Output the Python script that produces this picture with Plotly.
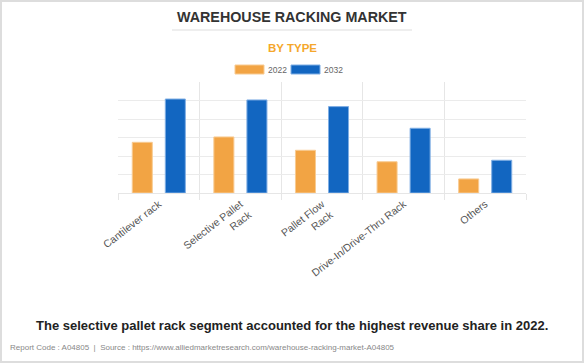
import plotly.graph_objects as go

categories = ["Cantilever rack", "Selective Pallet<br>Rack", "Pallet Flow<br>Rack",
              "Drive-In/Drive-Thru Rack", "Others"]
values_2022 = [2.74, 3.03, 2.31, 1.69, 0.76]
values_2032 = [5.08, 5.03, 4.67, 3.50, 1.77]
series_names = ["2022", "2032"]
colors = ["#F2A444", "#1266C1"]
edge_colors = ["#F8CB92", "#7FAEE4"]

FONT = "Arial, Liberation Sans, sans-serif"

L, T, W, H = 118, 82, 408, 111
def px(x):
    return (x - L) / W
def py(y):
    return (T + H - y) / H

fig = go.Figure()
for name, vals, c, ec in zip(series_names, [values_2022, values_2032], colors, edge_colors):
    fig.add_trace(go.Bar(x=categories, y=vals, name=name, marker=dict(color=c, line=dict(color=ec, width=1)),
                         showlegend=False, hoverinfo="x+y"))

fig.update_layout(
    width=584, height=363,
    margin=dict(l=L, r=584 - L - W, t=T, b=363 - T - H),
    paper_bgcolor="#FFFFFF", plot_bgcolor="#FFFFFF",
    barmode="group", bargap=0.19, bargroupgap=0.394,
    font=dict(family=FONT, color="#555555"),
    xaxis=dict(type="category", tickson="boundaries", showgrid=True, gridcolor="#E6E6E6",
               ticks="outside", ticklen=6, tickcolor="#E6E6E6", tickangle=-38,
               tickfont=dict(size=10.5, color="#555555"), showline=True, linecolor="#E6E6E6",
               zeroline=False),
    yaxis=dict(range=[0, 6], dtick=1, showticklabels=False, showgrid=True, gridcolor="#EBEBEB",
               zeroline=False, showline=False, fixedrange=True),
    shapes=[
        dict(type="rect", xref="paper", yref="paper", x0=px(1), x1=px(583),
             y0=py(362), y1=py(1), line=dict(color="#DDDDDD", width=2),
             fillcolor="rgba(0,0,0,0)", layer="below"),
        dict(type="line", xref="paper", yref="paper", x0=px(172), x1=px(412),
             y0=py(30), y1=py(30), line=dict(color="#DDDDDD", width=1)),
        dict(type="rect", xref="paper", yref="paper", x0=px(235), x1=px(264),
             y0=py(74), y1=py(65), fillcolor=colors[0], line=dict(color=edge_colors[0], width=1)),
        dict(type="rect", xref="paper", yref="paper", x0=px(291), x1=px(320),
             y0=py(74), y1=py(65), fillcolor=colors[1], line=dict(color=edge_colors[1], width=1)),
    ],
    annotations=[
        dict(text="<b>WAREHOUSE RACKING MARKET</b>", xref="paper", yref="paper",
             x=px(292), y=py(17), showarrow=False, xanchor="center", yanchor="middle",
             font=dict(size=14.3, color="#333333", family=FONT)),
        dict(text="<b>BY TYPE</b>", xref="paper", yref="paper",
             x=px(292), y=py(48), showarrow=False, xanchor="center", yanchor="middle",
             font=dict(size=11.5, color="#F5A72B", family=FONT)),
        dict(text=series_names[0], xref="paper", yref="paper",
             x=px(266), y=py(69.5), showarrow=False, xanchor="left", yanchor="middle",
             font=dict(size=8.5, color="#666666", family=FONT)),
        dict(text=series_names[1], xref="paper", yref="paper",
             x=px(322), y=py(69.5), showarrow=False, xanchor="left", yanchor="middle",
             font=dict(size=8.5, color="#666666", family=FONT)),
        dict(text="<b>The selective pallet rack segment accounted for the highest revenue share in 2022.</b>",
             xref="paper", yref="paper", x=px(292), y=py(325), showarrow=False,
             xanchor="center", yanchor="middle", font=dict(size=13, color="#222222", family=FONT)),
        dict(text="Report Code : A04805  |  Source : https://www.alliedmarketresearch.com/warehouse-racking-market-A04805",
             xref="paper", yref="paper", x=px(8), y=py(347), showarrow=False,
             xanchor="left", yanchor="middle", font=dict(size=8, color="#888888", family=FONT)),
    ],
)

fig.write_html("out.html", config={"displayModeBar": False},
               post_script="document.body.style.margin='0';document.body.style.overflow='hidden';")
